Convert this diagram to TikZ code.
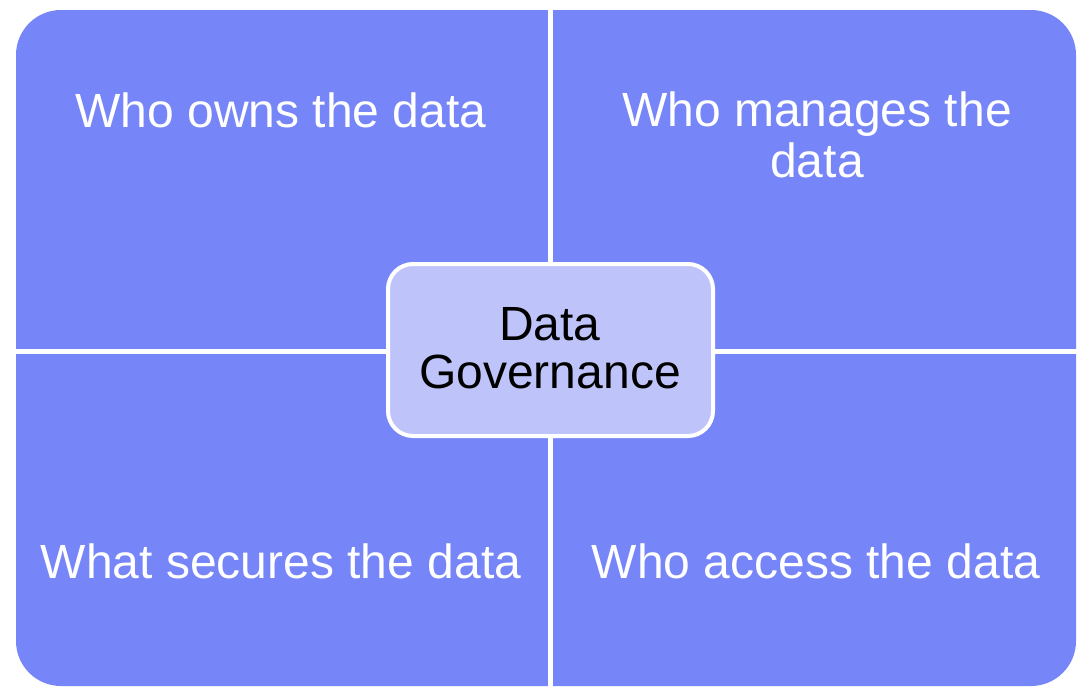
\documentclass[tikz,border=0pt]{standalone}
\usepackage{fontspec}
\setmainfont{Liberation Sans}
\definecolor{quad}{RGB}{118,134,248}
\definecolor{centre}{RGB}{190,196,250}
\tikzset{
  quadtext/.style={text=white, font=\fontsize{48}{51}\selectfont, inner sep=0pt, align=center, anchor=base},
  hubbox/.style={fill=centre, draw=white, line width=4pt, rounded corners=25pt},
  hubtext/.style={text=black, font=\fontsize{48}{48}\selectfont, inner sep=0pt, align=center, anchor=base},
  gapline/.style={draw=white, line width=5pt}
}
\begin{document}
\begin{tikzpicture}[x=1pt,y=-1pt]
\useasboundingbox (0,0) rectangle (1078,688);
\fill[white] (0,0) rectangle (1078,688);
% quadrant field
\fill[quad, rounded corners=45pt] (16,10) rectangle (1076,686);
% white gaps
\coordinate (vtop) at (550,0);
\coordinate (vbot) at (550,688);
\coordinate (hl) at (0,351);
\coordinate (hr) at (1078,351);
\draw[gapline] (vtop) -- (vbot);
\draw[gapline] (hl) -- (hr);
% centre box
\draw[hubbox] (388,264) rectangle (713,436);
\node[hubtext] (hub) at (550,388) {Data\\Governance};
% quadrant texts
\node[quadtext] (owns) at (281,127) {Who owns the data};
\node[quadtext] (manages) at (817,177) {Who manages the\\data};
\node[quadtext] (secures) at (281,578) {What secures the data};
\node[quadtext] (access) at (816,578) {Who access the data};
\end{tikzpicture}
\end{document}
